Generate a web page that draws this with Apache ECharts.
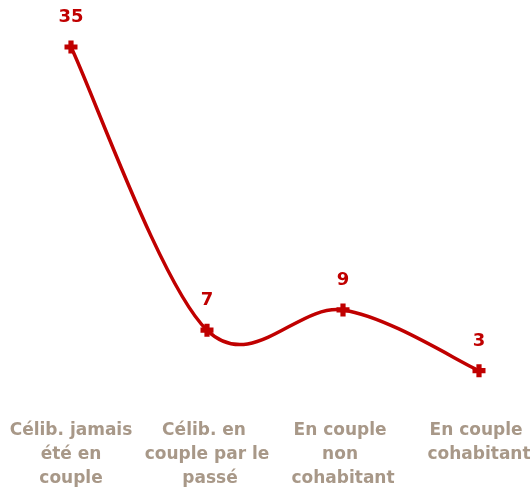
<!DOCTYPE html>
<html><head><meta charset="utf-8">
<script src="https://cdn.jsdelivr.net/npm/echarts@6/dist/echarts.min.js"></script>
<style>html,body{margin:0;padding:0;background:#fff}#c{width:530px;height:490px}</style>
</head><body><div id="c"></div>
<script>
var categories = ["Célib. jamais été en couple", "Célib. en couple par le passé", "En couple non cohabitant", "En couple cohabitant"];
var values = [35, 7, 9, 3];

var RED = '#C00000';
var chart = echarts.init(document.getElementById('c'), null, {renderer: 'canvas'});
var plus = 'path://M3,0 L7,0 L7,3 L10,3 L10,7 L7,7 L7,10 L3,10 L3,7 L0,7 L0,3 L3,3 Z';

function renderSeg(params, api) {
  var i = params.dataIndex, n = values.length;
  if (i >= n - 1) return null;
  function pt(k) { k = Math.max(0, Math.min(n - 1, k)); return api.coord([k, values[k]]); }
  var p0 = pt(i - 1), p1 = pt(i), p2 = pt(i + 1), p3 = pt(i + 2);
  return {
    type: 'bezierCurve',
    shape: {
      x1: p1[0], y1: p1[1], x2: p2[0], y2: p2[1],
      cpx1: p1[0] + (p2[0] - p0[0]) / 6, cpy1: p1[1] + (p2[1] - p0[1]) / 6,
      cpx2: p2[0] - (p3[0] - p1[0]) / 6, cpy2: p2[1] - (p3[1] - p1[1]) / 6
    },
    style: {stroke: RED, lineWidth: 3.5, fill: null, lineCap: 'round'}
  };
}

chart.setOption({
  animation: false,
  grid: {left: 71, right: 51, top: 47, bottom: 89, containLabel: false, outerBoundsMode: 'none'},
  xAxis: {
    type: 'category', data: categories, boundaryGap: false,
    axisLine: {show: false}, axisTick: {show: false},
    axisLabel: {
      interval: 0, margin: 18, width: 130, overflow: 'break',
      color: '#A89888', fontWeight: 'bold', fontSize: 17, lineHeight: 24,
      fontFamily: 'DejaVu Sans', align: 'center', hideOverlap: false
    }
  },
  yAxis: {type: 'value', min: 0, max: 35, show: false, splitLine: {show: false}},
  series: [{
    type: 'custom', data: values, renderItem: renderSeg, z: 1, silent: true
  }, {
    type: 'line', data: values, z: 3,
    lineStyle: {color: RED, width: 0, opacity: 0},
    itemStyle: {color: RED},
    symbol: plus, symbolSize: 13,
    label: {show: true, position: 'top', distance: 14, color: RED, fontWeight: 'bold', fontSize: 18, fontFamily: 'DejaVu Sans'}
  }]
});
</script></body></html>
